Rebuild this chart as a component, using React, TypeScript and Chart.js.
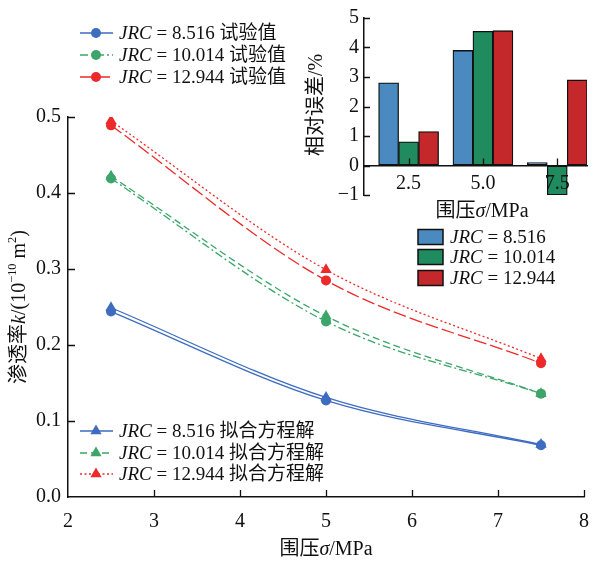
import React, { useEffect, useRef } from 'react';
import { Chart, registerables } from 'chart.js';
Chart.register(...registerables);

// ---- data ----
const pressures = [2.5, 5, 7.5];
const jrcValues = ['8.516', '10.014', '12.944'];
const expJrc8516 = [0.244, 0.127, 0.068];
const expJrc10014 = [0.419, 0.231, 0.136];
const expJrc12944 = [0.489, 0.285, 0.176];
const fitJrc8516 = [0.249, 0.131, 0.069];
const fitJrc10014 = [0.422, 0.238, 0.136];
const fitJrc12944 = [0.495, 0.299, 0.182];
const errJrc8516 = [2.8, 3.9, 0.1];
const errJrc10014 = [0.8, 4.55, -1.0];
const errJrc12944 = [1.15, 4.57, 2.9];
const mainXTicks = [2, 3, 4, 5, 6, 7, 8];
const mainYTicks = [0, 0.1, 0.2, 0.3, 0.4, 0.5];
const insetXTicks = [2.5, 5, 7.5];
const insetYTicks = [-1, 0, 1, 2, 3, 4, 5];

const BLUE = '#3d6cc0';
const GREEN = '#3da56a';
const RED = '#ec2a2a';
const BAR_BLUE = '#4a8ac0';
const BAR_GREEN = '#1f8b5e';
const BAR_RED = '#c4282a';
const AXIS = '#111';

const LATIN = '"Liberation Serif", "Times New Roman", Times, serif';
const CJK = '"Noto Sans CJK SC", sans-serif';
const fnt = (size: number, italic = false, cjk = false) =>
  cjk ? `${size}px ${CJK}` : `${italic ? 'italic ' : ''}${size}px ${LATIN}`;

type Run = { t: string; i?: boolean; sup?: boolean };
const CJK_RE = /[\u2E80-\u9FFF\uFF00-\uFFEF]/;

function segments(runs: Run[], size: number) {
  const out: { t: string; font: string; sup: boolean }[] = [];
  for (const r of runs) {
    const s = r.sup ? size * 0.62 : size;
    let cur = '';
    let curCjk: boolean | null = null;
    for (const ch of r.t) {
      const c = CJK_RE.test(ch);
      if (curCjk === null || c === curCjk) {
        cur += ch;
        curCjk = c;
      } else {
        out.push({ t: cur, font: fnt(s, !!r.i, curCjk), sup: !!r.sup });
        cur = ch;
        curCjk = c;
      }
    }
    if (cur) out.push({ t: cur, font: fnt(s, !!r.i, !!curCjk), sup: !!r.sup });
  }
  return out;
}

function drawRuns(ctx: CanvasRenderingContext2D, runs: Run[], x: number, yMid: number, size: number, align: 'left' | 'center') {
  const segs = segments(runs, size);
  let w = 0;
  for (const s of segs) {
    ctx.font = s.font;
    w += ctx.measureText(s.t).width;
  }
  let cx = align === 'center' ? x - w / 2 : x;
  const base = yMid + size * 0.34;
  ctx.textAlign = 'left';
  ctx.textBaseline = 'alphabetic';
  for (const s of segs) {
    ctx.font = s.font;
    ctx.fillText(s.t, cx, s.sup ? base - size * 0.42 : base);
    cx += ctx.measureText(s.t).width;
  }
}

function marker(ctx: CanvasRenderingContext2D, style: string, x: number, y: number, r: number, color: string) {
  ctx.save();
  ctx.fillStyle = color;
  ctx.setLineDash([]);
  ctx.beginPath();
  if (style === 'triangle') {
    ctx.moveTo(x, y - r);
    ctx.lineTo(x + r * 0.866, y + r * 0.5);
    ctx.lineTo(x - r * 0.866, y + r * 0.5);
    ctx.closePath();
  } else {
    ctx.arc(x, y, r, 0, Math.PI * 2);
  }
  ctx.fill();
  ctx.restore();
}

const toXY = (ys: number[]) => pressures.map((x, i) => ({ x, y: ys[i] }));

function lineDs(label: string, ys: number[], color: string, dash: number[], style: string, radius: number) {
  return {
    label,
    data: toXY(ys),
    borderColor: color,
    backgroundColor: color,
    borderWidth: 1.3,
    borderDash: dash,
    pointStyle: style,
    pointRadius: radius,
    pointBorderWidth: 0,
    pointBackgroundColor: color,
    cubicInterpolationMode: 'monotone',
    fill: false,
  };
}

const noPad = (s: any) => {
  s.paddingLeft = 0;
  s.paddingRight = 0;
  s.paddingTop = 0;
  s.paddingBottom = 0;
};

const mainPlugin = {
  id: 'mainDecor',
  afterDraw(chart: any) {
    const ctx: CanvasRenderingContext2D = chart.ctx;
    const xs = chart.scales.x;
    const ys = chart.scales.y;
    const area = chart.chartArea;
    ctx.save();
    ctx.strokeStyle = AXIS;
    ctx.lineWidth = 1.3;
    ctx.setLineDash([]);
    ctx.beginPath();
    for (const v of mainXTicks) {
      if (v === mainXTicks[0]) continue;
      const px = Math.round(xs.getPixelForValue(v)) + 0.5;
      ctx.moveTo(px, area.bottom);
      ctx.lineTo(px, area.bottom - 7);
    }
    for (const v of mainYTicks) {
      if (v === 0) continue;
      const py = Math.round(ys.getPixelForValue(v)) + 0.5;
      ctx.moveTo(area.left, py);
      ctx.lineTo(area.left + 7, py);
    }
    ctx.stroke();

    ctx.fillStyle = '#111';
    drawRuns(ctx, [{ t: '围压' }, { t: 'σ', i: true }, { t: '/MPa' }], (area.left + area.right) / 2, 548, 20, 'center');
    ctx.save();
    ctx.translate(18, (area.top + area.bottom) / 2);
    ctx.rotate(-Math.PI / 2);
    drawRuns(ctx, [
      { t: '渗透率' }, { t: 'k', i: true }, { t: '/(10' }, { t: '−10', sup: true }, { t: ' m' }, { t: '2', sup: true }, { t: ')' },
    ], 0, 0, 20, 'center');
    ctx.restore();

    const dsets = chart.data.datasets;
    const rowsTop = [33, 55, 77];
    const rowsBottom = [431, 453, 474];
    const drawLegendRow = (ds: any, y: number, text: string) => {
      ctx.save();
      ctx.strokeStyle = ds.borderColor;
      ctx.lineWidth = 1.5;
      ctx.setLineDash(ds.borderDash || []);
      ctx.beginPath();
      ctx.moveTo(80, y);
      ctx.lineTo(113, y);
      ctx.stroke();
      ctx.restore();
      marker(ctx, ds.pointStyle, 96, y, ds.pointRadius, ds.borderColor);
      ctx.fillStyle = '#111';
      drawRuns(ctx, [{ t: 'JRC', i: true }, { t: ' = ' + text }], 119, y, 19, 'left');
    };
    for (let k = 0; k < 3; k++) {
      drawLegendRow(dsets[k], rowsTop[k], jrcValues[k] + ' 试验值');
      drawLegendRow(dsets[k + 3], rowsBottom[k], jrcValues[k] + ' 拟合方程解');
    }
    ctx.restore();
  },
};

const insetPlugin = {
  id: 'insetDecor',
  afterDraw(chart: any) {
    const ctx: CanvasRenderingContext2D = chart.ctx;
    const xs = chart.scales.x;
    const ys = chart.scales.y;
    const area = chart.chartArea;
    ctx.save();
    ctx.strokeStyle = AXIS;
    ctx.lineWidth = 1.3;
    ctx.setLineDash([]);
    ctx.beginPath();
    const y0 = ys.getPixelForValue(0);
    for (const v of insetXTicks) {
      const px = Math.round(xs.getPixelForValue(v)) + 0.5;
      ctx.moveTo(px, y0);
      ctx.lineTo(px, y0 - 7);
    }
    for (const v of insetYTicks) {
      const py = Math.round(ys.getPixelForValue(v)) + 0.5;
      ctx.moveTo(area.left, py);
      ctx.lineTo(area.left + 6, py);
    }
    ctx.stroke();
    ctx.fillStyle = '#111';
    drawRuns(ctx, [{ t: '围压' }, { t: 'σ', i: true }, { t: '/MPa' }], 482, 210, 20, 'center');
    ctx.save();
    ctx.translate(315, 105);
    ctx.rotate(-Math.PI / 2);
    drawRuns(ctx, [{ t: '相对误差/%' }], 0, 0, 20, 'center');
    ctx.restore();

    const rows = [237, 257, 278];
    chart.data.datasets.forEach((ds: any, k: number) => {
      ctx.fillStyle = ds.backgroundColor;
      ctx.fillRect(418, rows[k] - 7.5, 25, 15);
      ctx.strokeStyle = '#111';
      ctx.lineWidth = 1.5;
      ctx.strokeRect(418, rows[k] - 7.5, 25, 15);
      ctx.fillStyle = '#111';
      drawRuns(ctx, [{ t: 'JRC', i: true }, { t: ' = ' + jrcValues[k] }], 450, rows[k], 19, 'left');
    });
    ctx.restore();
  },
};

export default function App() {
  const mainRef = useRef<HTMLCanvasElement>(null);
  const insetRef = useRef<HTMLCanvasElement>(null);

  useEffect(() => {
    const main = new Chart(mainRef.current as HTMLCanvasElement, {
      type: 'line',
      data: {
        datasets: [
          lineDs('JRC = 8.516 试验值', expJrc8516, BLUE, [], 'circle', 5),
          lineDs('JRC = 10.014 试验值', expJrc10014, GREEN, [8, 3, 2, 3], 'circle', 5),
          lineDs('JRC = 12.944 试验值', expJrc12944, RED, [13, 4], 'circle', 5),
          lineDs('JRC = 8.516 拟合方程解', fitJrc8516, BLUE, [], 'triangle', 6.5),
          lineDs('JRC = 10.014 拟合方程解', fitJrc10014, GREEN, [7, 4], 'triangle', 6.5),
          lineDs('JRC = 12.944 拟合方程解', fitJrc12944, RED, [2, 2.5], 'triangle', 6.5),
        ] as any,
      },
      options: {
        responsive: false,
        animation: false,
        layout: { padding: { top: 117, right: 9, left: 0, bottom: 0 } },
        plugins: { legend: { display: false }, tooltip: { enabled: false } },
        scales: {
          x: {
            type: 'linear',
            min: 2,
            max: 8,
            afterBuildTicks: (s: any) => { s.ticks = mainXTicks.map((value) => ({ value })); },
            afterFit: (s: any) => { s.height = 66; noPad(s); },
            grid: { display: true, drawOnChartArea: false, drawTicks: false },
            border: { display: true, color: AXIS, width: 1.5 },
            ticks: { color: '#111', font: { family: LATIN, size: 20 }, padding: 13, maxRotation: 0, callback: (v: any) => String(v) },
          },
          y: {
            type: 'linear',
            min: 0,
            max: 0.5,
            afterBuildTicks: (s: any) => { s.ticks = mainYTicks.map((value) => ({ value })); },
            afterFit: (s: any) => { s.width = 68; noPad(s); },
            grid: { display: true, drawOnChartArea: false, drawTicks: false },
            border: { display: true, color: AXIS, width: 1.5 },
            ticks: { color: '#111', font: { family: LATIN, size: 20 }, padding: 7, callback: (v: any) => Number(v).toFixed(1) },
          },
        },
      } as any,
      plugins: [mainPlugin],
    });

    const inset = new Chart(insetRef.current as HTMLCanvasElement, {
      type: 'bar',
      data: {
        datasets: [
          { label: 'JRC = 8.516', data: toXY(errJrc8516), backgroundColor: BAR_BLUE },
          { label: 'JRC = 10.014', data: toXY(errJrc10014), backgroundColor: BAR_GREEN },
          { label: 'JRC = 12.944', data: toXY(errJrc12944), backgroundColor: BAR_RED },
        ].map((d) => ({ ...d, borderColor: '#111', borderWidth: 1.3, borderSkipped: false, barThickness: 20 })) as any,
      },
      options: {
        responsive: false,
        animation: false,
        layout: { padding: { top: 18, right: 6, left: 324, bottom: 105 } },
        plugins: { legend: { display: false }, tooltip: { enabled: false } },
        scales: {
          x: {
            type: 'linear',
            min: 1,
            max: 8.5,
            offset: false,
            position: { y: 0 },
            afterBuildTicks: (s: any) => { s.ticks = insetXTicks.map((value) => ({ value })); },
            afterFit: (s: any) => { s.height = 0; noPad(s); },
            grid: { display: true, drawOnChartArea: false, drawTicks: false, offset: false },
            border: { display: true, color: AXIS, width: 1.5, z: 1 },
            ticks: { z: 1, color: '#111', font: { family: LATIN, size: 20 }, padding: 6, maxRotation: 0, callback: (v: any) => Number(v).toFixed(1) },
          },
          y: {
            type: 'linear',
            min: -1,
            max: 5,
            afterBuildTicks: (s: any) => { s.ticks = insetYTicks.map((value) => ({ value })); },
            afterFit: (s: any) => { s.width = 40; noPad(s); },
            grid: { display: true, drawOnChartArea: false, drawTicks: false },
            border: { display: true, color: AXIS, width: 1.5 },
            ticks: { color: '#111', font: { family: LATIN, size: 20 }, padding: 5, callback: (v: any) => (v < 0 ? '−' + Math.abs(v) : String(v)) },
          },
        },
      } as any,
      plugins: [insetPlugin],
    });

    return () => {
      main.destroy();
      inset.destroy();
    };
  }, []);

  return (
    <div style={{ position: 'absolute', left: 0, top: 0, width: 593, height: 563, background: '#fff' }}>
      <canvas ref={mainRef} width={593} height={563} style={{ position: 'absolute', left: 0, top: 0, width: 593, height: 563 }} />
      <canvas ref={insetRef} width={593} height={300} style={{ position: 'absolute', left: 0, top: 0, width: 593, height: 300, pointerEvents: 'none' }} />
    </div>
  );
}
